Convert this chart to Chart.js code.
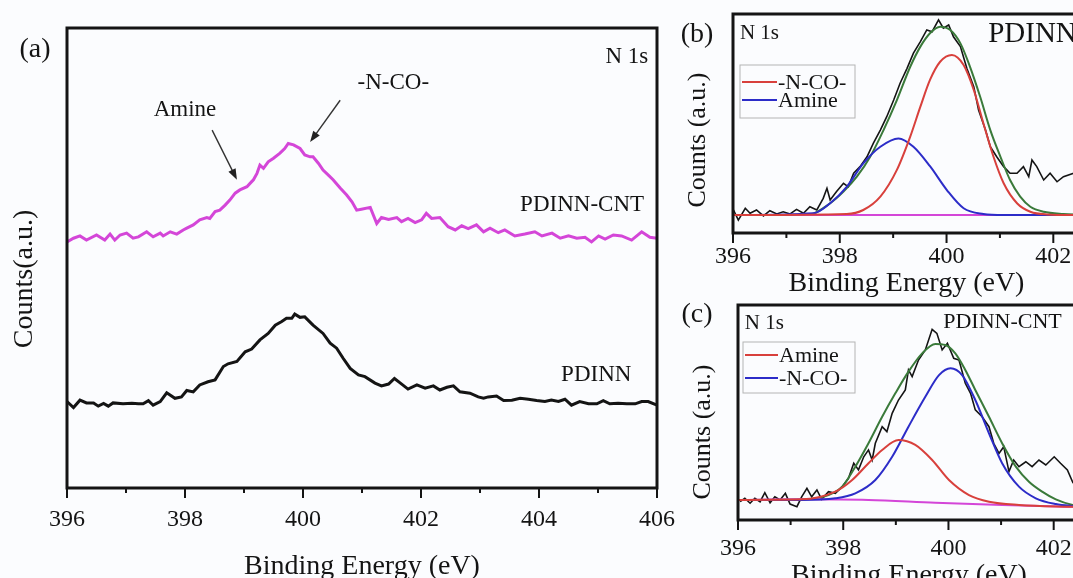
<!DOCTYPE html>
<html>
<head>
<meta charset="utf-8">
<script src="https://cdn.jsdelivr.net/npm/chart.js@4.4.1/dist/chart.umd.min.js"></script>
<style>
  html, body { margin: 0; padding: 0; background: #fbfcfe; overflow: hidden; }
  body { width: 1073px; height: 578px; position: relative; }
  canvas { position: absolute; }
  #cA { left: 0; top: 0; }
  #cB { left: 670px; top: 0; }
  #cC { left: 670px; top: 290px; }
</style>
</head>
<body>
<canvas id="cA" width="700" height="600"></canvas>
<canvas id="cB" width="520" height="300"></canvas>
<canvas id="cC" width="520" height="300"></canvas>
<script>
// ---- panel (a): N 1s survey of both samples ----
const xTicksA = [396, 398, 400, 402, 404, 406];
const cntEnergy = [396.00, 396.11, 396.22, 396.33, 396.50, 396.64, 396.73, 396.81, 396.90, 397.01, 397.12, 397.21, 397.35, 397.46, 397.58, 397.63, 397.75, 397.86, 397.97, 398.03, 398.14, 398.25, 398.37, 398.42, 398.51, 398.59, 398.68, 398.76, 398.85, 398.93, 399.05, 399.13, 399.16, 399.22, 399.27, 399.33, 399.41, 399.50, 399.61, 399.69, 399.75, 399.84, 399.95, 400.03, 400.12, 400.17, 400.26, 400.34, 400.43, 400.51, 400.63, 400.74, 400.83, 400.91, 400.99, 401.14, 401.25, 401.33, 401.45, 401.59, 401.67, 401.78, 401.90, 402.01, 402.09, 402.18, 402.32, 402.46, 402.58, 402.69, 402.80, 402.94, 403.06, 403.17, 403.31, 403.42, 403.59, 403.76, 403.93, 404.05, 404.22, 404.36, 404.50, 404.64, 404.78, 404.89, 405.01, 405.12, 405.26, 405.40, 405.57, 405.74, 405.88, 406.00];
const cntCounts = [53.5, 54.3, 54.8, 53.9, 55.0, 53.9, 55.2, 53.9, 55.0, 55.4, 54.3, 54.6, 55.7, 54.6, 55.4, 54.8, 55.7, 55.2, 56.1, 56.5, 57.2, 58.3, 58.8, 58.6, 60.1, 60.4, 61.5, 62.6, 64.1, 64.8, 65.5, 66.6, 67.0, 68.4, 70.2, 69.5, 70.9, 71.7, 72.8, 73.8, 74.9, 74.6, 73.8, 72.4, 72.0, 72.0, 70.6, 69.1, 68.0, 67.0, 65.2, 63.7, 62.2, 60.4, 60.6, 61.0, 57.5, 58.8, 58.4, 58.8, 57.9, 58.6, 57.7, 58.3, 59.7, 58.6, 58.8, 56.8, 56.1, 57.0, 56.4, 57.2, 55.7, 56.5, 55.5, 56.1, 54.8, 55.2, 55.7, 54.8, 55.4, 54.3, 54.8, 54.3, 54.5, 53.5, 54.8, 54.1, 55.0, 54.8, 53.9, 55.7, 54.5, 54.3];
const pdinnEnergy = [396.00, 396.11, 396.22, 396.33, 396.45, 396.53, 396.62, 396.70, 396.78, 396.95, 397.10, 397.21, 397.29, 397.38, 397.46, 397.58, 397.69, 397.83, 397.94, 398.03, 398.14, 398.25, 398.39, 398.51, 398.65, 398.73, 398.88, 399.02, 399.13, 399.27, 399.41, 399.53, 399.64, 399.72, 399.81, 399.86, 399.95, 400.03, 400.17, 400.34, 400.46, 400.57, 400.68, 400.80, 400.94, 401.05, 401.22, 401.33, 401.45, 401.55, 401.64, 401.78, 401.93, 402.07, 402.21, 402.32, 402.44, 402.55, 402.66, 402.83, 402.97, 403.06, 403.14, 403.28, 403.40, 403.54, 403.68, 403.82, 403.96, 404.10, 404.21, 404.33, 404.44, 404.55, 404.69, 404.84, 404.98, 405.09, 405.20, 405.34, 405.49, 405.63, 405.74, 405.85, 406.00];
const pdinnCounts = [18.8, 17.5, 19.1, 18.5, 18.5, 17.8, 18.4, 17.8, 18.5, 18.3, 18.4, 18.3, 18.3, 19.0, 18.0, 18.8, 20.7, 19.5, 19.8, 21.2, 20.9, 22.4, 23.1, 23.5, 26.4, 27.0, 27.5, 29.6, 30.2, 32.2, 33.6, 35.4, 36.2, 36.9, 36.9, 37.8, 37.1, 37.2, 35.4, 33.6, 31.5, 30.4, 28.2, 26.0, 24.6, 24.2, 22.8, 22.2, 22.6, 23.8, 22.9, 21.5, 22.4, 21.7, 22.2, 21.3, 21.9, 22.2, 20.9, 20.6, 19.8, 19.5, 19.8, 20.0, 19.0, 19.1, 19.5, 19.3, 19.0, 18.8, 19.1, 18.8, 19.3, 18.0, 18.8, 18.3, 18.3, 19.0, 18.3, 18.4, 18.3, 18.3, 18.8, 18.8, 18.0];

// ---- panel (b): PDINN peak fit ----
const xTicksFit = [396, 398, 400, 402];
const bRawE = [396.01, 396.10, 396.23, 396.32, 396.44, 396.57, 396.69, 396.82, 396.94, 397.07, 397.19, 397.32, 397.44, 397.57, 397.69, 397.76, 397.82, 397.94, 398.07, 398.16, 398.26, 398.38, 398.51, 398.63, 398.76, 398.88, 399.01, 399.13, 399.26, 399.38, 399.51, 399.63, 399.73, 399.85, 399.94, 400.04, 400.13, 400.26, 400.38, 400.51, 400.60, 400.73, 400.82, 400.94, 401.07, 401.19, 401.32, 401.44, 401.54, 401.60, 401.69, 401.82, 401.94, 402.07, 402.19, 402.38];
const bRaw = [10.5, 5.9, 11.3, 9.0, 10.5, 7.8, 10.2, 8.7, 9.7, 8.7, 10.8, 9.0, 12.0, 10.5, 15.8, 20.4, 15.1, 18.9, 22.7, 21.1, 27.3, 30.3, 34.8, 41.0, 47.0, 53.1, 60.7, 68.4, 75.2, 82.1, 87.4, 92.7, 91.9, 97.3, 93.5, 95.0, 89.6, 85.1, 75.2, 66.8, 56.2, 47.0, 39.4, 34.8, 30.3, 27.3, 27.3, 30.3, 25.7, 33.3, 30.3, 24.2, 27.3, 23.4, 25.7, 27.3];
const bFitE = [396.00, 397.00, 397.44, 397.82, 398.07, 398.32, 398.57, 398.82, 399.07, 399.32, 399.51, 399.69, 399.88, 400.07, 400.26, 400.44, 400.63, 400.82, 401.01, 401.19, 401.38, 401.57, 401.82, 402.19, 402.50];
const bFit = [8.2, 8.2, 8.5, 13.6, 18.9, 25.7, 34.8, 47.0, 60.7, 75.9, 85.1, 91.2, 94.2, 92.7, 86.6, 75.9, 62.2, 47.0, 34.8, 24.2, 16.6, 12.0, 9.7, 8.7, 8.4];
const bNcoE = [396.00, 398.13, 398.44, 398.76, 399.07, 399.32, 399.51, 399.69, 399.88, 400.10, 400.32, 400.51, 400.69, 400.88, 401.07, 401.32, 401.57, 401.88, 402.50];
const bNco = [8.2, 8.7, 10.5, 16.6, 28.8, 44.0, 57.7, 69.9, 78.2, 81.3, 76.7, 65.3, 50.1, 34.8, 22.7, 13.6, 9.7, 8.5, 8.2];
const bAmineE = [396.00, 397.51, 397.82, 398.13, 398.44, 398.76, 399.10, 399.38, 399.69, 400.01, 400.32, 400.69, 401.07, 402.50];
const bAmine = [8.2, 9.0, 13.6, 21.1, 31.8, 39.4, 43.2, 39.4, 30.5, 19.5, 11.3, 8.7, 8.2, 8.2];
const bBaseE = [396.00, 402.50];
const bBase = [8.2, 8.2];

// ---- panel (c): PDINN-CNT peak fit ----
const cRawE = [396.04, 396.13, 396.23, 396.32, 396.42, 396.51, 396.61, 396.70, 396.80, 396.90, 396.99, 397.12, 397.21, 397.31, 397.40, 397.50, 397.59, 397.72, 397.85, 397.98, 398.10, 398.20, 398.29, 398.39, 398.48, 398.55, 398.61, 398.74, 398.83, 398.93, 399.05, 399.18, 399.24, 399.31, 399.43, 399.56, 399.69, 399.78, 399.88, 399.98, 400.10, 400.20, 400.32, 400.42, 400.51, 400.64, 400.77, 400.86, 400.96, 401.05, 401.15, 401.24, 401.34, 401.47, 401.59, 401.72, 401.85, 402.01, 402.13, 402.26, 402.37];
const cRaw = [8.5, 10.1, 7.8, 10.1, 8.5, 12.7, 8.0, 10.8, 9.3, 12.4, 7.4, 6.2, 10.8, 14.7, 10.8, 14.0, 9.6, 13.2, 12.4, 15.5, 19.4, 26.4, 23.3, 29.4, 32.6, 27.9, 35.7, 43.4, 41.1, 49.6, 55.8, 60.5, 69.8, 66.7, 74.4, 79.1, 88.7, 86.8, 79.1, 82.2, 75.2, 74.4, 63.6, 58.9, 51.2, 48.0, 43.4, 35.7, 31.0, 34.1, 22.5, 27.9, 24.8, 27.1, 24.8, 27.9, 25.6, 29.4, 26.4, 23.3, 17.1];
const cFitE = [396.00, 397.21, 397.72, 397.98, 398.23, 398.48, 398.74, 398.99, 399.24, 399.50, 399.75, 399.94, 400.13, 400.32, 400.51, 400.77, 401.02, 401.28, 401.53, 401.78, 402.04, 402.36, 402.50];
const cFit = [9.3, 9.6, 11.6, 15.5, 24.8, 35.7, 48.0, 58.9, 69.0, 77.5, 81.9, 81.4, 77.5, 69.8, 60.5, 48.0, 35.7, 24.8, 17.8, 13.2, 9.6, 7.0, 6.6];
const cAmineE = [396.00, 397.21, 397.85, 398.17, 398.48, 398.74, 399.05, 399.37, 399.69, 400.01, 400.39, 400.77, 401.34, 402.29, 402.50];
const cAmine = [9.3, 9.6, 13.2, 18.6, 26.4, 32.6, 37.2, 34.9, 27.9, 18.6, 11.6, 8.5, 7.0, 6.2, 6.1];
const cNcoE = [396.00, 397.21, 397.85, 398.23, 398.61, 398.93, 399.24, 399.56, 399.82, 400.04, 400.26, 400.51, 400.77, 401.02, 401.34, 401.66, 402.04, 402.36, 402.50];
const cNco = [9.3, 9.3, 10.1, 12.4, 18.6, 29.4, 43.4, 57.3, 67.4, 70.6, 67.4, 55.8, 40.3, 26.4, 15.5, 10.1, 7.4, 6.5, 6.3];
const cBaseE = [396.00, 397.21, 398.48, 399.75, 401.02, 402.29, 402.50];
const cBase = [9.3, 9.6, 9.3, 8.0, 7.0, 6.2, 6.1];

const SERIF = "'Liberation Serif', 'Times New Roman', serif";
const INK = '#141414';
const PINK = '#d446d8';
const RED = '#d8403c';
const BLUE = '#2c2cc8';
const GREEN = '#3a7a3a';

const pts = (xs, ys) => xs.map((x, i) => ({ x, y: ys[i] }));

// frame, minor ticks, annotations and legend box
const framePlugin = {
    id: 'frame',
    afterDatasetsDraw(chart, args, o) {
        const { ctx, chartArea: a, scales: { x, y } } = chart;
        ctx.save();
        ctx.strokeStyle = INK;
        ctx.lineWidth = o.lw;
        ctx.strokeRect(a.left, a.top, a.right - a.left, a.bottom - a.top);

        ctx.lineWidth = 2;
        for (let v = Math.ceil(x.min); v <= x.max; v++) {
            const px = x.getPixelForValue(v);
            const len = v % 2 === 0 ? 10 : 5;
            ctx.beginPath();
            ctx.moveTo(px, a.bottom);
            ctx.lineTo(px, a.bottom + len);
            ctx.stroke();
        }

        ctx.fillStyle = INK;
        ctx.textBaseline = 'middle';
        (o.texts || []).forEach(t => {
            ctx.font = `${t.size}px ${SERIF}`;
            ctx.textAlign = t.align || 'center';
            ctx.fillText(t.t, x.getPixelForValue(t.x), y.getPixelForValue(t.y));
        });

        (o.arrows || []).forEach(ar => {
            const x1 = x.getPixelForValue(ar.x1), y1 = y.getPixelForValue(ar.y1);
            const x2 = x.getPixelForValue(ar.x2), y2 = y.getPixelForValue(ar.y2);
            const ang = Math.atan2(y2 - y1, x2 - x1);
            ctx.strokeStyle = '#333';
            ctx.fillStyle = '#222';
            ctx.lineWidth = 1.4;
            ctx.beginPath();
            ctx.moveTo(x1, y1);
            ctx.lineTo(x2 - 8 * Math.cos(ang), y2 - 8 * Math.sin(ang));
            ctx.stroke();
            ctx.beginPath();
            ctx.moveTo(x2, y2);
            ctx.lineTo(x2 - 11 * Math.cos(ang) + 4 * Math.sin(ang), y2 - 11 * Math.sin(ang) - 4 * Math.cos(ang));
            ctx.lineTo(x2 - 11 * Math.cos(ang) - 4 * Math.sin(ang), y2 - 11 * Math.sin(ang) + 4 * Math.cos(ang));
            ctx.closePath();
            ctx.fill();
        });

        if (o.legend) {
            const L = o.legend;
            const bx = a.left + L.box[0], by = a.top + L.box[1];
            ctx.strokeStyle = '#b4b4b4';
            ctx.lineWidth = 1;
            ctx.strokeRect(bx, by, L.box[2], L.box[3]);
            ctx.font = `${L.size}px ${SERIF}`;
            ctx.textAlign = 'left';
            L.items.forEach((it, i) => {
                const ds = chart.data.datasets[it];
                const ly = a.top + L.rows[i];
                ctx.strokeStyle = ds.borderColor;
                ctx.lineWidth = 2;
                ctx.beginPath();
                ctx.moveTo(a.left + L.line[0], ly);
                ctx.lineTo(a.left + L.line[1], ly);
                ctx.stroke();
                ctx.fillStyle = INK;
                ctx.fillText(ds.label, a.left + L.line[1] + 1, ly + 1);
            });
        }
        ctx.restore();
    },
    afterDraw(chart, args, o) {
        const { ctx } = chart;
        ctx.save();
        ctx.fillStyle = INK;
        ctx.textBaseline = 'middle';
        ctx.textAlign = 'center';
        (o.labels || []).forEach(l => {
            ctx.save();
            ctx.translate(l.px, l.py);
            if (l.rot) ctx.rotate(-Math.PI / 2);
            ctx.font = `${l.size}px ${SERIF}`;
            ctx.fillText(l.t, 0, 0);
            ctx.restore();
        });
        ctx.restore();
    }
};

function makeChart(id, cfg) {
    return new Chart(document.getElementById(id), {
        type: 'line',
        data: { datasets: cfg.datasets },
        options: {
            responsive: false,
            animation: false,
            events: [],
            layout: { padding: cfg.padding },
            elements: { point: { radius: 0 } },
            plugins: { legend: { display: false }, tooltip: { enabled: false }, frame: cfg.frame },
            scales: {
                x: {
                    type: 'linear', min: cfg.xMin, max: cfg.xMax,
                    afterFit: s => { s.height = cfg.axisH; },
                    afterBuildTicks: s => { s.ticks = cfg.ticks.map(v => ({ value: v })); },
                    ticks: { padding: cfg.tickPad, color: INK, font: { family: SERIF, size: cfg.tickSize }, callback: v => String(v) },
                    grid: { display: false },
                    border: { display: false },
                    title: { display: true, text: 'Binding Energy (eV)', color: INK,
                             font: { family: SERIF, size: cfg.titleSize, lineHeight: 1 }, padding: { top: 0, bottom: cfg.titlePad } }
                },
                y: { display: false, min: 0, max: 100 }
            }
        },
        plugins: [framePlugin]
    });
}

const line = (label, data, color, w, smooth) => ({
    label, data, borderColor: color, borderWidth: w, fill: false,
    tension: 0, cubicInterpolationMode: smooth ? 'monotone' : 'default'
});

makeChart('cA', {
    xMin: 396, xMax: 406, ticks: xTicksA,
    padding: { left: 67, right: 43, top: 28, bottom: 0 },
    axisH: 112, tickPad: 9, tickSize: 24, titleSize: 28, titlePad: 19,
    datasets: [
        line('PDINN-CNT', pts(cntEnergy, cntCounts), PINK, 3, false),
        line('PDINN', pts(pdinnEnergy, pdinnCounts), INK, 3, false)
    ],
    frame: {
        lw: 3,
        texts: [
            { t: 'Amine', x: 398.0, y: 82.2, size: 23 },
            { t: '-N-CO-', x: 401.53, y: 88.0, size: 23 },
            { t: 'N 1s', x: 405.49, y: 93.7, size: 23 },
            { t: 'PDINN-CNT', x: 404.73, y: 61.5, size: 23 },
            { t: 'PDINN', x: 404.97, y: 24.6, size: 23 }
        ],
        arrows: [
            { x1: 398.46, y1: 77.8, x2: 398.88, y2: 67.0 },
            { x1: 400.63, y1: 84.3, x2: 400.12, y2: 75.2 }
        ],
        labels: [
            { t: '(a)', px: 35, py: 50, size: 28 },
            { t: 'Counts(a.u.)', px: 25, py: 279, size: 28, rot: true }
        ]
    }
});

makeChart('cB', {
    xMin: 396, xMax: 402.5, ticks: xTicksFit,
    padding: { left: 63, right: 110, top: 14, bottom: 0 },
    axisH: 67, tickPad: 1, tickSize: 24, titleSize: 28, titlePad: 2,
    datasets: [
        line('-N-CO-', pts(bNcoE, bNco), RED, 2, true),
        line('Amine', pts(bAmineE, bAmine), BLUE, 2, true),
        line('base', pts(bBaseE, bBase), PINK, 2, false),
        line('fit', pts(bFitE, bFit), GREEN, 2, true),
        line('PDINN', pts(bRawE, bRaw), INK, 1.6, false)
    ],
    frame: {
        lw: 3,
        texts: [
            { t: 'N 1s', x: 396.13, y: 90.9, size: 21, align: 'left' },
            { t: 'PDINN', x: 400.78, y: 90.9, size: 29, align: 'left' }
        ],
        legend: { box: [7, 51, 115, 53], rows: [68, 86], line: [9, 44], items: [0, 1], size: 22 },
        labels: [
            { t: '(b)', px: 27, py: 35, size: 28 },
            { t: 'Counts (a.u.)', px: 28, py: 140, size: 26, rot: true }
        ]
    }
});

makeChart('cC', {
    xMin: 396, xMax: 402.5, ticks: xTicksFit,
    padding: { left: 68, right: 110, top: 15, bottom: 0 },
    axisH: 70, tickPad: 6, tickSize: 24, titleSize: 28, titlePad: 0,
    datasets: [
        line('Amine', pts(cAmineE, cAmine), RED, 2, true),
        line('-N-CO-', pts(cNcoE, cNco), BLUE, 2, true),
        line('base', pts(cBaseE, cBase), PINK, 2, true),
        line('fit', pts(cFitE, cFit), GREEN, 2, true),
        line('PDINN-CNT', pts(cRawE, cRaw), INK, 1.6, false)
    ],
    frame: {
        lw: 3,
        texts: [
            { t: 'N 1s', x: 396.13, y: 91.2, size: 21, align: 'left' },
            { t: 'PDINN-CNT', x: 399.90, y: 92.1, size: 22, align: 'left' }
        ],
        legend: { box: [5, 37, 112, 51], rows: [50, 73], line: [7, 40], items: [0, 1], size: 22 },
        labels: [
            { t: '(c)', px: 27, py: 25, size: 28 },
            { t: 'Counts (a.u.)', px: 33, py: 142, size: 26, rot: true }
        ]
    }
});
</script>
</body>
</html>
